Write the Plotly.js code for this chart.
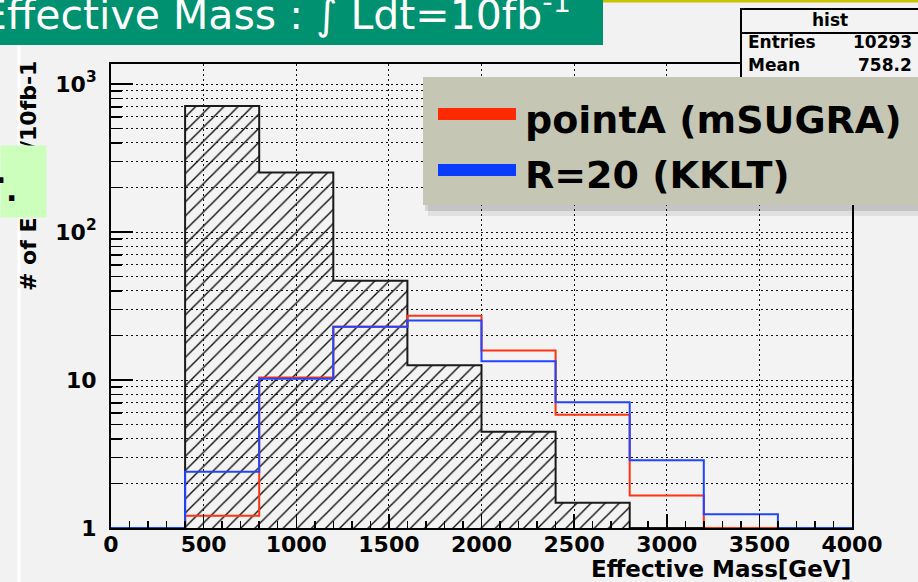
<!DOCTYPE html>
<html><head><meta charset="utf-8">
<script src="https://cdn.plot.ly/plotly-3.0.1.min.js"></script>
<style>html,body{margin:0;padding:0;background:#f2f2f2;overflow:hidden}#chart{width:918px;height:582px}</style>
</head><body><div id="chart"></div>
<script>
// ---- data ----
const binEdges = [0, 400, 800, 1200, 1600, 2000, 2400, 2800, 3200, 3600, 4000];
const histCounts = [0, 710, 252, 46.9, 12.6, 4.47, 1.48, 0, 0, 0];
const pointACounts = [0, 1.21, 10.4, 22.9, 27.2, 15.8, 5.83, 1.66, 0, 0];
const r20Counts = [0, 2.40, 10.2, 22.9, 25.2, 13.4, 7.07, 2.87, 1.24, 0];
const xTickVals = [0, 500, 1000, 1500, 2000, 2500, 3000, 3500, 4000];
const yTickVals = [1, 10, 100, 1000];
const yTickText = ['1', '10', '10<sup>2</sup>', '10<sup>3</sup>'];
const legendLabels = ['pointA (mSUGRA)', 'R=20 (KKLT)'];
const statsName = 'hist';
const statsRows = [['Entries', '10293'], ['Mean', '758.2']];
const bannerText = 'Effective Mass : \u222B Ldt=10fb<sup>-1</sup>';
const xTitle = 'Effective Mass[GeV]';
const yTitle = '# of Events/10fb-1';

// ---- geometry helpers ----
const W = 918, H = 582, L = 111, R = 852, T = 64, B = 528;
const px = x => (x - L) / (R - L);
const py = y => (B - y) / (B - T);
const yMin = 1, yMax = 1365;

function stepY(vals) {
  const y = vals.map(v => Math.max(v, yMin));
  y.push(y[y.length - 1]);
  return y;
}
const minorY = [];
for (let k = 0; k < 4; k++) for (let m = 2; m <= 9; m++) { const v = m * Math.pow(10, k); if (v < yMax) minorY.push(v); }

const RED = '#ff3311', BLUE = '#2244ff';
const traces = [
  {x: binEdges, y: stepY(histCounts), type: 'scatter', mode: 'lines', line: {shape: 'hv', color: '#1a1a1a', width: 2},
   fill: 'tozeroy', fillcolor: 'rgba(0,0,0,0)',
   fillpattern: {shape: '/', size: 10, solidity: 0.14, fgcolor: '#111', bgcolor: 'rgba(0,0,0,0)'},
   showlegend: false, hoverinfo: 'skip'},
  {x: binEdges, y: stepY(pointACounts), type: 'scatter', mode: 'lines', line: {shape: 'hv', color: RED, width: 2}, name: legendLabels[0], showlegend: false},
  {x: binEdges, y: stepY(r20Counts), type: 'scatter', mode: 'lines', line: {shape: 'hv', color: BLUE, width: 2}, name: legendLabels[1], showlegend: false}
];

const DV = 'DejaVu Sans';
const gridDash = '2px,3px';
const shapes = [
  // slide decoration
  {type: 'rect', xref: 'paper', yref: 'paper', x0: px(0), x1: px(603), y0: py(45), y1: py(-2), fillcolor: '#009270', line: {width: 0}, layer: 'above'},
  {type: 'rect', xref: 'paper', yref: 'paper', x0: px(603), x1: px(920), y0: py(2.5), y1: py(-2), fillcolor: '#c8c200', line: {width: 0}, layer: 'above'},
  {type: 'rect', xref: 'paper', yref: 'paper', x0: px(17.5), x1: px(20.5), y0: py(584), y1: py(45), fillcolor: '#ffffff', line: {width: 0}, layer: 'below'},
  // stats box
  {type: 'rect', xref: 'paper', yref: 'paper', x0: px(741), x1: px(925), y0: py(95), y1: py(9), fillcolor: '#f3f3f3', line: {color: '#000', width: 2}, layer: 'above'},
  {type: 'line', xref: 'paper', yref: 'paper', x0: px(741), x1: px(925), y0: py(33), y1: py(33), line: {color: '#000', width: 2}, layer: 'above'},
  // legend shadow + box
  {type: 'rect', xref: 'paper', yref: 'paper', x0: px(428), x1: px(925), y0: py(216), y1: py(84), fillcolor: 'rgba(0,0,0,0.08)', line: {width: 0}, layer: 'above'},
  {type: 'rect', xref: 'paper', yref: 'paper', x0: px(425), x1: px(925), y0: py(211), y1: py(80), fillcolor: 'rgba(0,0,0,0.12)', line: {width: 0}, layer: 'above'},
  {type: 'rect', xref: 'paper', yref: 'paper', x0: px(423), x1: px(925), y0: py(205), y1: py(77), fillcolor: '#c5c6b3', line: {width: 0}, layer: 'above'},
  {type: 'rect', xref: 'paper', yref: 'paper', x0: px(438), x1: px(516), y0: py(120), y1: py(108), fillcolor: '#ff2a00', line: {width: 0}, layer: 'above'},
  {type: 'rect', xref: 'paper', yref: 'paper', x0: px(438), x1: px(516), y0: py(176), y1: py(164), fillcolor: '#0a3cff', line: {width: 0}, layer: 'above'}
];

const ann = (o) => Object.assign({xref: 'paper', yref: 'paper', showarrow: false, borderpad: 0}, o);
const annotations = [
  ann({text: bannerText, x: px(-20), y: py(12), xanchor: 'left', yanchor: 'middle', font: {family: DV, size: 41, color: '#ffffff'}}),
  ann({text: xTitle, x: px(852), y: py(569), xanchor: 'right', yanchor: 'middle', font: {family: DV, size: 23, color: '#000', weight: 'bold'}}),
  ann({text: yTitle, x: px(28), y: py(176), xanchor: 'center', yanchor: 'middle', textangle: -90, font: {family: DV, size: 22, color: '#000', weight: 'bold'}}),
  ann({text: '.', x: px(0), y: py(145), xanchor: 'left', yanchor: 'top', width: 45, height: 71, bgcolor: '#ccffbb', font: {family: DV, size: 4, color: '#ccffbb'}}),
  ann({text: '.', x: px(1), y: py(172), xanchor: 'center', yanchor: 'middle', font: {family: DV, size: 30, color: '#000', weight: 'bold'}}),
  ann({text: '.', x: px(11), y: py(190), xanchor: 'center', yanchor: 'middle', font: {family: DV, size: 30, color: '#000', weight: 'bold'}}),
  ann({text: statsName, x: px(830), y: py(20), xanchor: 'center', yanchor: 'middle', font: {family: DV, size: 17, color: '#000', weight: 'bold'}}),
  ann({text: legendLabels[0], x: px(524), y: py(120), xanchor: 'left', yanchor: 'middle', font: {family: DV, size: 38, color: '#000', weight: 'bold'}}),
  ann({text: legendLabels[1], x: px(524), y: py(175), xanchor: 'left', yanchor: 'middle', font: {family: DV, size: 38, color: '#000', weight: 'bold'}})
];
statsRows.forEach((r, i) => {
  const yc = 42 + i * 23;
  annotations.push(ann({text: r[0], x: px(747), y: py(yc), xanchor: 'left', yanchor: 'middle', font: {family: DV, size: 17, color: '#000', weight: 'bold'}}));
  annotations.push(ann({text: r[1], x: px(913), y: py(yc), xanchor: 'right', yanchor: 'middle', font: {family: DV, size: 17, color: '#000', weight: 'bold'}}));
});

const layout = {
  width: W, height: H,
  margin: {l: L, r: W - R, t: T, b: H - B, pad: 0},
  paper_bgcolor: '#f2f2f2', plot_bgcolor: '#f3f3f3',
  showlegend: false,
  xaxis: {
    range: [0, 4000], tickmode: 'array', tickvals: xTickVals, ticks: 'inside', ticklen: 14, tickwidth: 1.5, tickcolor: '#000',
    showgrid: true, gridcolor: '#111', gridwidth: 1, griddash: gridDash, zeroline: false,
    showline: true, linecolor: '#000', linewidth: 2, mirror: true,
    minor: {tickmode: 'linear', tick0: 0, dtick: 100, ticks: 'inside', ticklen: 7, tickwidth: 1.5, tickcolor: '#000', showgrid: false},
    tickfont: {family: DV, size: 22, color: '#000', weight: 'bold'}, ticklabelstandoff: -4
  },
  yaxis: {
    type: 'log', range: [Math.log10(yMin), Math.log10(yMax)], tickmode: 'array', tickvals: yTickVals, ticktext: yTickText,
    ticks: 'inside', ticklen: 22, tickwidth: 1.5, tickcolor: '#000',
    showgrid: true, gridcolor: '#111', gridwidth: 1, griddash: gridDash, zeroline: false,
    showline: true, linecolor: '#000', linewidth: 2, mirror: true,
    minor: {tickmode: 'array', tickvals: minorY, ticks: 'inside', ticklen: 11, tickwidth: 1.5, tickcolor: '#000', showgrid: true, gridcolor: '#111', gridwidth: 1, griddash: gridDash},
    tickfont: {family: DV, size: 22, color: '#000', weight: 'bold'}, ticklabelstandoff: 8
  },
  shapes: shapes,
  annotations: annotations
};

Plotly.newPlot('chart', traces, layout, {displayModeBar: false, staticPlot: true});
</script>
</body></html>
